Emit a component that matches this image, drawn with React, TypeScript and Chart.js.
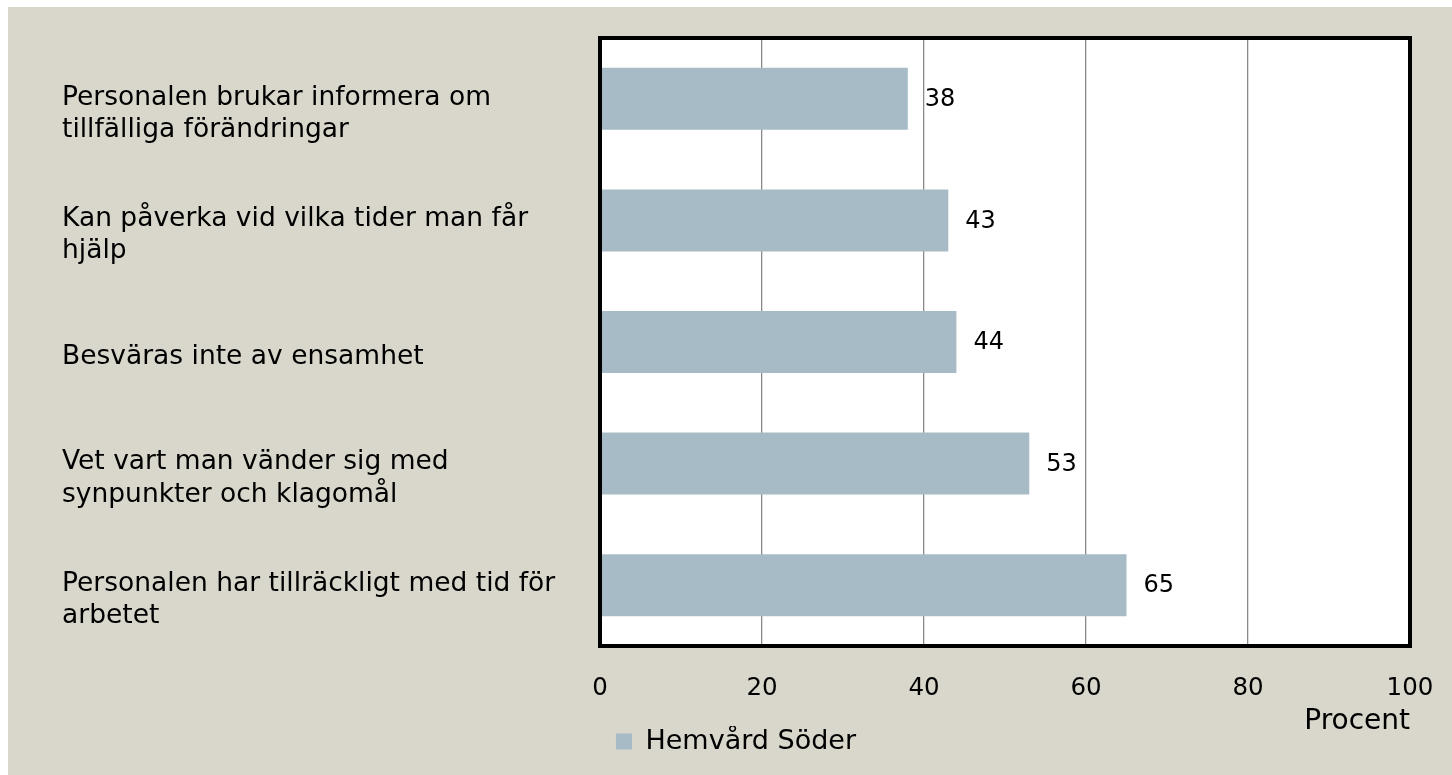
import React, { useEffect, useRef } from "react";
import { Chart, registerables } from "chart.js";

Chart.register(...registerables);

const categories: string[][] = [
  ["Personalen brukar informera om", "tillfälliga förändringar"],
  ["Kan påverka vid vilka tider man får", "hjälp"],
  ["Besväras inte av ensamhet"],
  ["Vet vart man vänder sig med", "synpunkter och klagomål"],
  ["Personalen har tillräckligt med tid för", "arbetet"],
];
const values: number[] = [38, 43, 44, 53, 65];
const seriesName = "Hemvård Söder";
const axisTitle = "Procent";
const xTicks: number[] = [0, 20, 40, 60, 80, 100];

const FONT = "DejaVu Sans";
const BAR = "#A7BBC6";
const BG = "#D9D7CB";

const framePlugin = {
  id: "frame",
  beforeDraw(chart: any) {
    const { ctx, chartArea } = chart;
    ctx.save();
    ctx.fillStyle = "#ffffff";
    ctx.fillRect(chartArea.left, chartArea.top, chartArea.right - chartArea.left, chartArea.bottom - chartArea.top);
    ctx.restore();
  },
  afterDraw(chart: any) {
    const { ctx, chartArea } = chart;
    ctx.save();
    ctx.strokeStyle = "#000000";
    ctx.lineWidth = 4;
    ctx.strokeRect(chartArea.left, chartArea.top, chartArea.right - chartArea.left, chartArea.bottom - chartArea.top);
    ctx.restore();
  },
};

const valueLabelPlugin = {
  id: "valueLabels",
  afterDatasetsDraw(chart: any) {
    const { ctx } = chart;
    const meta = chart.getDatasetMeta(0);
    ctx.save();
    ctx.font = `24px "${FONT}"`;
    ctx.fillStyle = "#000000";
    ctx.textAlign = "left";
    ctx.textBaseline = "middle";
    meta.data.forEach((el: any, i: number) => {
      ctx.fillText(String(values[i]), el.x + 17, el.y + 1);
    });
    ctx.restore();
  },
};

export default function App() {
  const ref = useRef<HTMLCanvasElement | null>(null);
  useEffect(() => {
    if (!ref.current) return;
    const chart = new Chart(ref.current, {
      type: "bar",
      data: {
        labels: categories,
        datasets: [
          {
            label: seriesName,
            data: values,
            backgroundColor: BAR,
            borderWidth: 0,
            categoryPercentage: 1,
            barPercentage: 0.51,
          },
        ],
      },
      options: {
        indexAxis: "y",
        animation: false,
        responsive: true,
        maintainAspectRatio: false,
        layout: { padding: { left: 54, right: 42, top: 31, bottom: 10 } },
        font: { family: FONT, size: 24 },
        color: "#000000",
        scales: {
          x: {
            min: 0,
            max: 100,
            afterBuildTicks: (s: any) => {
              s.ticks = xTicks.map((v) => ({ value: v }));
            },
            afterFit: (s: any) => {
              s.height = 80;
              s.paddingLeft = 0;
              s.paddingRight = 0;
            },
            ticks: {
              padding: 28,
              color: "#000000",
              font: { family: FONT, size: 24.5 },
            },
            grid: {
              color: (c: any) => (c.tick && (c.tick.value === 0 || c.tick.value === 100) ? "rgba(0,0,0,0)" : "#8A8A8A"),
              lineWidth: 1.3,
              drawTicks: false,
            },
            border: { display: false },
            title: {
              display: true,
              text: axisTitle,
              align: "end",
              color: "#000000",
              font: { family: FONT, size: 28, lineHeight: 1 },
              padding: { top: 0, bottom: -10 },
            },
          },
          y: {
            afterFit: (s: any) => {
              s.width = 538;
              s.paddingTop = 0;
              s.paddingBottom = 0;
            },
            ticks: {
              crossAlign: "far",
              labelOffset: 15,
              color: "#000000",
              font: { family: FONT, size: 26.5, lineHeight: 1.22 },
            },
            grid: { display: false, drawTicks: false },
            border: { display: false },
          },
        },
        plugins: {
          legend: {
            position: "bottom",
            labels: {
              boxWidth: 16,
              boxHeight: 16,
              padding: 2,
              color: "#000000",
              font: { family: FONT, size: 27 },
            },
          },
          tooltip: { enabled: false },
        },
      },
      plugins: [framePlugin, valueLabelPlugin],
    });
    return () => chart.destroy();
  }, []);
  return (
    <div style={{ position: "fixed", left: 8, top: 7, right: 0, bottom: 0, background: BG }}>
      <canvas ref={ref} />
    </div>
  );
}
